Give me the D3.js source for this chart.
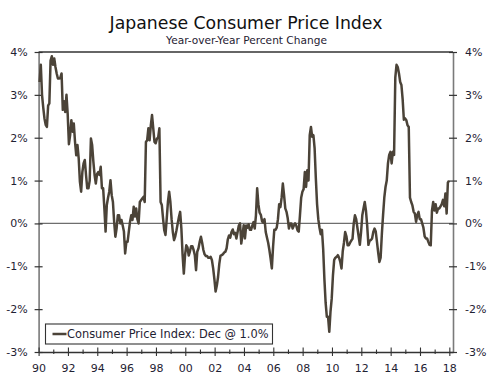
<!DOCTYPE html>
<html><head><meta charset="utf-8">
<script src="https://cdn.jsdelivr.net/npm/d3@7"></script>
<style>html,body{margin:0;padding:0;background:#fff;}svg{display:block;}</style>
</head><body>
<svg id="c" width="500" height="379"></svg>
<script>
const title = "Japanese Consumer Price Index";
const subtitle = "Year-over-Year Percent Change";
const legendLabel = "Consumer Price Index: Dec @ 1.0%";
const startYear = 1990;
const yTicks = [-3, -2, -1, 0, 1, 2, 3, 4];
const xTickYears = d3.range(1990, 2019);
const xLabelYears = d3.range(1990, 2019, 2);
// monthly year-over-year % change, Jan 1990 - Dec 2017
const cpi = [
 3.3, 3.7, 3.0, 2.7, 2.45, 2.3, 2.25, 2.75, 2.8, 3.8, 3.9, 3.7,
 3.85, 3.65, 3.5, 3.38, 3.38, 3.4, 3.5, 2.65, 2.85, 2.6, 3.0, 2.55,
 1.85, 2.06, 2.41, 2.14, 2.33, 1.9, 1.59, 1.83, 1.52, 0.97, 0.74, 1.2,
 1.4, 1.48, 1.13, 0.82, 0.82, 1.0, 1.98, 1.83, 1.44, 1.13, 0.93, 1.15,
 1.2, 1.13, 1.32, 0.82, 0.82, 0.35, -0.19, 0.43, 0.6, 0.74, 1.01, 0.66,
 0.5, 0.04, -0.31, -0.12, 0.19, 0.19, 0.0, 0.08, -0.05, -0.19, -0.7, -0.43,
 -0.43, -0.19, 0.04, 0.19, 0.08, 0.39, 0.16, 0.35, 0.1, 0.0, 0.5, 0.54,
 0.58, 0.62, 0.5, 1.9, 1.94, 2.22, 1.94, 2.29, 2.53, 2.22, 1.9, 1.87,
 1.98, 2.0, 2.22, 0.5, 0.43, 0.12, -0.16, -0.27, 0.1, 0.5, 0.74, 0.5,
 0.1, -0.2, -0.39, -0.3, -0.16, 0.0, 0.15, 0.27, -0.12, -0.74, -1.17, -0.74,
 -0.51, -0.56, -0.75, -0.65, -0.53, -0.53, -0.62, -0.74, -1.09, -0.66, -0.58, -0.43,
 -0.31, -0.45, -0.62, -0.72, -0.76, -0.76, -0.8, -0.8, -0.78, -0.86, -1.05, -1.3,
 -1.59, -1.45, -1.25, -0.95, -0.75, -0.74, -0.72, -0.68, -0.66, -0.58, -0.37, -0.28,
 -0.33, -0.2, -0.14, -0.25, -0.22, -0.35, -0.2, -0.05, 0.0, -0.47, -0.27, -0.04,
 -0.35, -0.05, -0.1, -0.02, -0.15, -0.15, -0.05, 0.03, -0.12, 0.19, 0.82, 0.45,
 0.25, 0.2, 0.05, 0.02, 0.1, -0.2, -0.33, -0.45, -0.62, -0.82, -1.05, -0.55,
 -0.15, -0.15, -0.1, 0.1, 0.45, 0.38, 0.6, 0.93, 0.66, 0.35, 0.27, 0.12,
 -0.12, 0.0, 0.0, -0.12, -0.05, 0.0, -0.05, -0.16, -0.19, 0.19, 0.6, 0.74,
 0.8, 1.2, 0.85, 1.24, 1.0, 2.06, 2.25, 2.02, 2.06, 1.75, 1.05, 0.45,
 0.1, -0.1, -0.25, -0.15, -0.6, -1.3, -1.85, -2.18, -2.18, -2.53, -2.05, -1.75,
 -1.21, -0.85, -0.8, -0.78, -0.74, -0.8, -0.9, -1.05, -0.65, -0.45, -0.2, -0.3,
 -0.51, -0.51, -0.45, -0.4, -0.36, 0.0, 0.19, 0.1, -0.1, -0.3, -0.5, -0.2,
 0.19, 0.35, 0.5, 0.3, -0.05, -0.5, -0.4, -0.39, -0.35, -0.2, -0.12, -0.19,
 -0.43, -0.68, -0.9, -0.8, -0.25, 0.2, 0.6, 0.85, 1.0, 1.4, 1.6, 1.67,
 1.4, 1.67, 1.6, 3.4, 3.7, 3.65, 3.5, 3.3, 3.23, 2.9, 2.42, 2.45,
 2.41, 2.29, 2.25, 0.6, 0.5, 0.42, 0.27, 0.23, 0.04, 0.2, 0.27, 0.1,
 0.1, 0.0, -0.1, -0.3, -0.35, -0.35, -0.43, -0.5, -0.51, 0.3, 0.5, 0.3,
 0.45, 0.25, 0.35, 0.35, 0.4, 0.45, 0.55, 0.4, 0.7, 0.23, 0.95, 1.0
];

const svg = d3.select("#c");
const L = 38.6, R = 453, T = 52, B = 352;
const font = "'DejaVu Sans', Verdana, sans-serif";
const lineColor = "#4b4338";
const textColor = "#1f2233";

// x in months since Jan 1990
const x = d3.scaleLinear().domain([0, 339]).range([L, R]);
const y = d3.scaleLinear().domain([-3, 4]).range([B, T]);

// title
svg.append("text").attr("x", 246).attr("y", 28.5).attr("text-anchor", "middle")
  .attr("font-family", font).attr("font-size", 17.3).attr("fill", "#111").text(title);
svg.append("text").attr("x", 246.5).attr("y", 43.5).attr("text-anchor", "middle")
  .attr("font-family", font).attr("font-size", 10.6).attr("fill", textColor).text(subtitle);

// zero line
svg.append("line").attr("x1", L).attr("x2", R).attr("y1", y(0)).attr("y2", y(0))
  .attr("stroke", "#6e6e6e").attr("stroke-width", 1.2);

// left / right axes
const fmt = d => d + "%";
const yLeft = d3.axisLeft(y).tickValues(yTicks).tickFormat(fmt).tickSizeInner(4).tickSizeOuter(0).tickPadding(7);
const gl = svg.append("g").attr("transform", `translate(${L},0)`).call(yLeft);
const yRight = d3.axisRight(y).tickValues(yTicks).tickFormat(fmt).tickSizeInner(4).tickSizeOuter(0).tickPadding(8);
const gr = svg.append("g").attr("transform", `translate(${R},0)`).call(yRight);
[gl, gr].forEach((g, i) => {
  g.select(".domain").attr("stroke", "#7a7a7a").attr("stroke-width", 1.6);
  g.selectAll(".tick line").attr("stroke", "#333").attr("stroke-width", 1.2)
    .attr("x1", i === 0 ? 4 : -4);
  g.selectAll(".tick text").attr("font-family", font).attr("font-size", 11).attr("fill", textColor);
});

// top border
svg.append("line").attr("x1", L).attr("x2", R).attr("y1", T).attr("y2", T)
  .attr("stroke", "#333").attr("stroke-width", 1.3);

// bottom axis
const xAxis = d3.axisBottom(x)
  .tickValues(xTickYears.map(yy => (yy - startYear) * 12))
  .tickFormat(v => {
    const yy = startYear + v / 12;
    return xLabelYears.includes(yy) ? String(yy).slice(2) : "";
  })
  .tickSizeOuter(0).tickSizeInner(4).tickPadding(8);
const gb = svg.append("g").attr("transform", `translate(0,${B})`).call(xAxis);
gb.select(".domain").attr("stroke", "#333").attr("stroke-width", 1.3);
gb.selectAll(".tick line").attr("stroke", "#333").attr("stroke-width", 1.1)
  .attr("y1", (v) => (xLabelYears.includes(startYear + v / 12) ? -4.5 : -2.5))
  .attr("y2", (v) => (xLabelYears.includes(startYear + v / 12) ? 4 : 2));
gb.selectAll(".tick text").attr("font-family", font).attr("font-size", 11).attr("fill", textColor);

// data line
const line = d3.line().x((d, i) => x(i + 0.8)).y(d => y(d)).curve(d3.curveLinear);
svg.append("path").datum(cpi).attr("d", line).attr("fill", "none")
  .attr("stroke", lineColor).attr("stroke-width", 2.5).attr("stroke-linejoin", "round");

// legend
const lg = svg.append("g");
lg.append("rect").attr("x", 45.5).attr("y", 324).attr("width", 227).attr("height", 20)
  .attr("fill", "#fff").attr("stroke", "#333").attr("stroke-width", 1.1);
lg.append("line").attr("x1", 52.5).attr("x2", 66.5).attr("y1", 334).attr("y2", 334)
  .attr("stroke", lineColor).attr("stroke-width", 2.5);
lg.append("text").attr("x", 67).attr("y", 338).attr("font-family", font).attr("font-size", 11.4)
  .attr("fill", textColor).text(legendLabel);
</script>
</body></html>
